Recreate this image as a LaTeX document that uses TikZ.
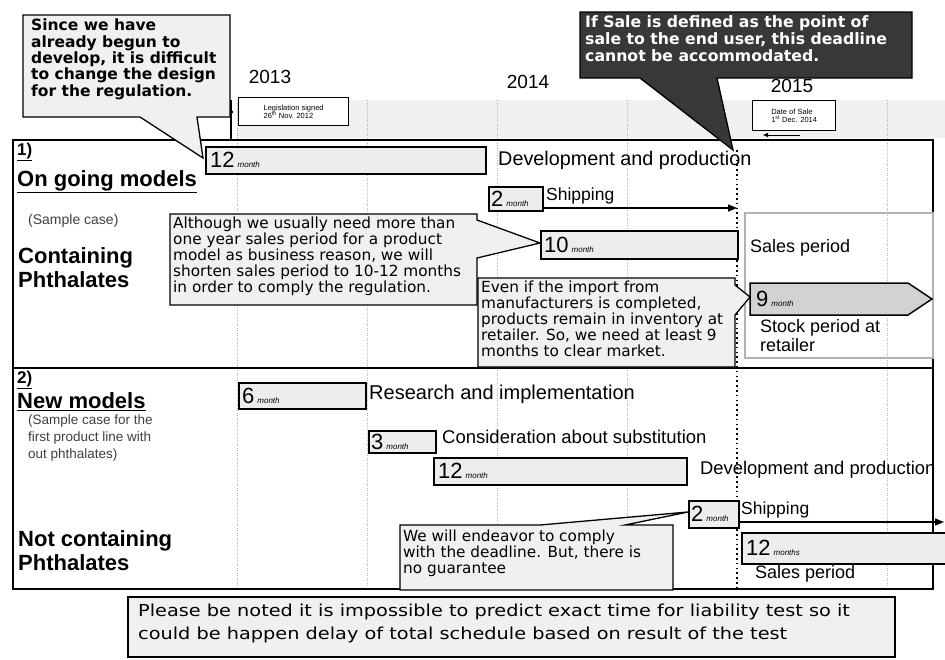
\documentclass[tikz,border=0pt]{standalone}
\usepackage{fontspec}
\setmainfont{Liberation Sans}
\newfontfamily\cfont{DejaVu Sans}
\newfontfamily\notefont[FakeStretch=1.17]{DejaVu Sans}
\usetikzlibrary{arrows.meta}
\newcommand\fs[2]{\fontsize{#1}{#2}\selectfont}
\newcommand\mon[1]{\hspace{3pt}{\fs{8}{8}\itshape #1}}
\tikzset{
  frame/.style={draw=black, line width=1.4pt},
  gridl/.style={draw=gray!60, line width=0.6pt, dash pattern=on 1pt off 1.5pt},
  mbox/.style={draw=black, line width=1.6pt, fill=gray!14, inner sep=0pt, anchor=north west},
  mnum/.style={anchor=west, inner sep=0pt, font=\fs{22}{22}},
  callbox/.style={draw=black, line width=1.3pt, fill=gray!12, line join=miter},
  ctext/.style={anchor=north west, inner sep=0pt, align=left, font=\cfont\fs{15.3}{16}},
  lbl/.style={inner sep=0pt},
  head/.style={anchor=north west, inner sep=0pt, font=\fs{22}{22}\bfseries},
  datebox/.style={draw=black, line width=1.3pt, fill=white, inner sep=2pt, anchor=north west, align=left, font=\fs{7.5}{8.5}},
  arr/.style={line width=1.4pt, -{Triangle[length=9pt,width=7pt]}}
}
\begin{document}
\begin{tikzpicture}[x=1pt,y=-1pt]
\useasboundingbox[fill=white] (0,0) rectangle (945,659);
% header band and grid
\fill[gray!12] (237,100) rectangle (945,138);
\foreach \gx in {237,367,497,627,887} {\draw[gridl] (\gx,100) -- (\gx,589);}
% years
\node[lbl, font=\fs{19}{19}] (y13) at (270,77) {2013};
\node[lbl, font=\fs{19}{19}] (y14) at (528,82) {2014};
\node[lbl, font=\fs{19}{19}] (y15) at (792,86) {2015};
% frames
\draw[frame] (13,140) rectangle (933,368);
\draw[frame] (13,368) rectangle (933,589);
% date boxes
\draw[line width=1.2pt] (231,100) -- (231,140);
\fill (231,112) circle (2pt);
\node[datebox, minimum width=110pt, minimum height=28pt] (d1) at (238,97) {Legislation signed\\26\textsuperscript{th} Nov. 2012};
\node[datebox, minimum width=83pt, minimum height=30pt] (d2) at (752,100) {Date of Sale\\1\textsuperscript{st} Dec. 2014};
\coordinate (da) at (800,135); \coordinate (db) at (763,135);
\draw[line width=1pt, -{Triangle[length=5pt,width=4pt]}] (da) -- (db);
% deadline
\draw[line width=2.2pt, dash pattern=on 1.6pt off 3.2pt] (737,150) -- (737,589);
% ---- section 1 ----
\node[head, font=\fs{17}{17}\bfseries] (h1) at (17,143) {\underline{1)}};
\node[head] (h1b) at (17,170) {\underline{On going models}};
\node[lbl, anchor=west, font=\fs{14}{14}, text=black!75] (sc1) at (28,221) {(Sample case)};
\node[head, align=left, font=\fs{22}{24}\bfseries] (cp) at (18,247) {Containing\\Phthalates};
\node[mbox, minimum width=280pt, minimum height=27pt] (b12) at (205,146) {};
\node[mnum] (n12) at ([xshift=5pt]b12.west) {12\mon{month}};
\node[lbl, anchor=west, font=\fs{19.8}{20}] (dev1) at (498,160) {Development and production};
\node[mbox, minimum width=54pt, minimum height=24pt] (b2) at (488,186) {};
\node[mnum] (n2) at ([xshift=3pt]b2.west) {2\mon{month}};
\node[lbl, anchor=south west, font=\fs{17.5}{18}] (ship1) at (546,204) {Shipping};
\coordinate (s1a) at (543,208); \coordinate (s1b) at (737,208);
\draw[arr] (s1a) -- (s1b);
\node[mbox, minimum width=197pt, minimum height=28pt] (b10) at (540,230) {};
\node[mnum] (n10) at ([xshift=4pt]b10.west) {10\mon{month}};
\draw[gray!60, line width=1.2pt] (745,213) rectangle (933,358);
\node[lbl, anchor=west, font=\fs{18}{18}] (sp1) at (750,248) {Sales period};
\coordinate (a9) at (750,283);
\filldraw[fill=gray!35, draw=black, line width=1.5pt] (a9) -- (908,283) -- (932,299) -- (908,315) -- (750,315) -- cycle;
\node[mnum] (n9) at (756,299) {9\mon{month}};
\node[lbl, anchor=north west, align=left, font=\fs{18}{19}] (stk) at (760,319) {Stock period at\\retailer};
% ---- section 2 ----
\node[head, font=\fs{17}{17}\bfseries] (h2) at (17,371) {\underline{2)}};
\node[head] (h2b) at (17,392) {\underline{New models}};
\node[lbl, anchor=north west, align=left, font=\fs{13.5}{17}, text=black!75] (sc2) at (28,415) {(Sample case for the\\first product line with\\out phthalates)};
\node[head, align=left, font=\fs{22}{24}\bfseries] (nc) at (18,530) {Not containing\\Phthalates};
\node[mbox, minimum width=127pt, minimum height=26pt] (b6) at (238,382) {};
\node[mnum] (n6) at ([xshift=4pt]b6.west) {6\mon{month}};
\node[lbl, anchor=west, font=\fs{20}{20}] (res) at (369,394) {Research and implementation};
\node[mbox, minimum width=67pt, minimum height=22pt] (b3) at (368,430) {};
\node[mnum] (n3) at ([xshift=3pt]b3.west) {3\mon{month}};
\node[lbl, anchor=west, font=\fs{18.5}{19}] (con) at (442,437) {Consideration about substitution};
\node[mbox, minimum width=253pt, minimum height=27pt] (b12b) at (433,457) {};
\node[mnum] (n12b) at ([xshift=5pt]b12b.west) {12\mon{month}};
\node[lbl, anchor=west, font=\fs{18.4}{20}] (dev2) at (700,470) {Development and production};
\node[mbox, minimum width=50pt, minimum height=27pt] (b2b) at (688,500) {};
\node[mnum] (n2b) at ([xshift=3pt]b2b.west) {2\mon{month}};
\node[lbl, anchor=south west, font=\fs{17.5}{18}] (ship2) at (741,518) {Shipping};
\coordinate (s2a) at (738,522); \coordinate (s2b) at (944,522);
\draw[arr] (s2a) -- (s2b);
\node[mbox, minimum width=210pt, minimum height=31pt] (b12c) at (741,532) {};
\node[mnum] (n12c) at ([xshift=5pt]b12c.west) {12\mon{months}};
\node[lbl, anchor=west, font=\fs{18}{18}] (sp2) at (755,574) {Sales period};
% ---- callouts ----
\draw[callbox] (23,15) -- (230,15) -- (230,117) -- (197,117) -- (203,158) -- (140,117) -- (23,117) -- cycle;
\node[ctext, font=\cfont\fs{15.5}{16.3}\bfseries] (c1) at (31,19) {Since we have\\already begun to\\develop, it is difficult\\to change the design\\for the regulation.};
\draw[callbox, fill=black!78] (580,12) -- (912,12) -- (912,78) -- (717,78) -- (733,150) -- (640,78) -- (580,78) -- cycle;
\node[ctext, font=\cfont\fs{15.7}{17}\bfseries, text=white] (c2) at (585,15) {If Sale is defined as the point of\\sale to the end user, this deadline\\cannot be accommodated.};
\draw[callbox] (170,214) -- (477,214) -- (477,220) -- (540,243) -- (477,258) -- (477,305) -- (170,305) -- cycle;
\node[ctext] (c3) at (173,217) {Although we usually need more than\\one year sales period for a product\\model as business reason, we will\\shorten sales period to 10-12 months\\in order to comply the regulation.};
\draw[callbox] (478,278) -- (735,278) -- (735,285) -- (750,297) -- (735,315) -- (735,367) -- (478,367) -- cycle;
\node[ctext] (c4) at (481,281) {Even if the import from\\manufacturers is completed,\\products remain in inventory at\\retailer. So, we need at least 9\\months to clear market.};
\draw[callbox] (400,525) -- (540,525) -- (688,512) -- (625,525) -- (673,525) -- (673,590) -- (400,590) -- cycle;
\node[ctext] (c5) at (403,530) {We will endeavor to comply\\with the deadline. But, there is\\no guarantee};
% ---- bottom note ----
\draw[callbox, line width=1.2pt] (128,597) rectangle (895,657);
\node[lbl, anchor=north west, align=left, font=\notefont\fs{16.5}{23}] (note) at (138,604) {Please be noted it is impossible to predict exact time for liability test so it\\could be happen delay of total schedule based on result of the test};
\end{tikzpicture}
\end{document}
